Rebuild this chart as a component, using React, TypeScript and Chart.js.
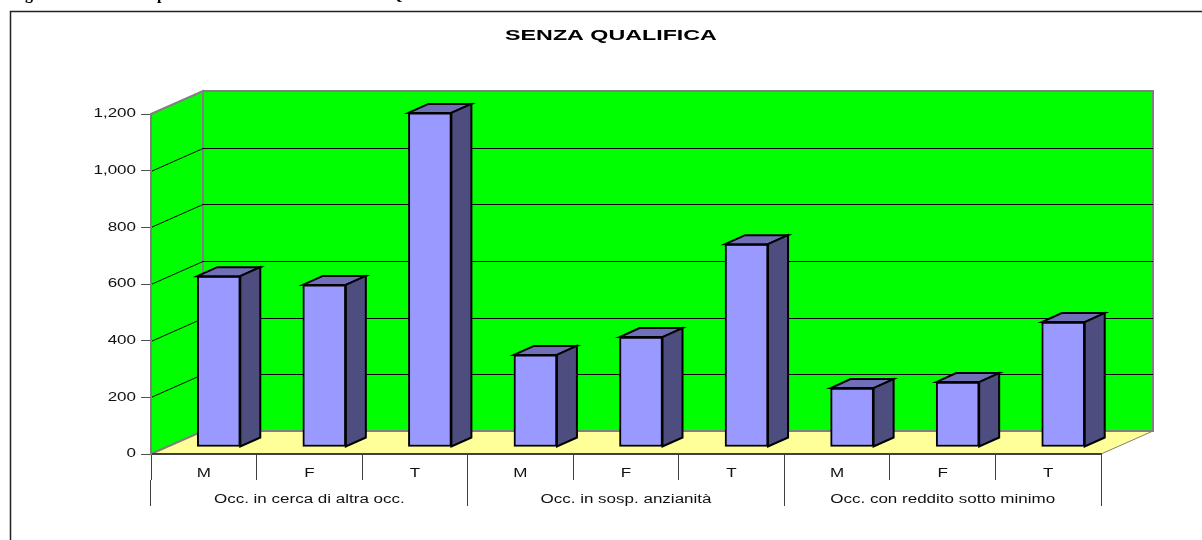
import React, { useEffect, useRef } from "react";
import { Chart, registerables } from "chart.js";

Chart.register(...registerables);

const categories = ["M", "F", "T", "M", "F", "T", "M", "F", "T"];
const groups = ["Occ. in cerca di altra occ.", "Occ. in sosp. anzianità", "Occ. con reddito sotto minimo"];
const values = [603, 572, 1179, 325, 388, 716, 208, 229, 441];
const yTicks = [0, 200, 400, 600, 800, 1000, 1200];

const WALL_DX = 52;
const WALL_DY = -23;
const BAR_DX = 15;
const BAR_DY = -7;
const SIDE_DX = 20;
const SIDE_DY = -9;
const TEXT_STRETCH = 1.36;
const TITLE_STRETCH = 1.55;

const poly = (ctx: CanvasRenderingContext2D, pts: number[][], fill: string, stroke: string, lw: number) => {
  ctx.beginPath();
  pts.forEach(([x, y], i) => (i ? ctx.lineTo(x, y) : ctx.moveTo(x, y)));
  ctx.closePath();
  ctx.fillStyle = fill;
  ctx.fill();
  ctx.lineWidth = lw;
  ctx.strokeStyle = stroke;
  ctx.lineJoin = "miter";
  ctx.stroke();
};

// The reference's sans-serif text is stretched horizontally, as in a resized picture.
const stretchText = (ctx: any) => {
  if (ctx.__stretched) return;
  ctx.__stretched = true;
  const fillText = ctx.fillText.bind(ctx);
  ctx.fillText = (t: string, x: number, y: number) => {
    const f: string = ctx.font;
    if (f.includes("Serif")) return fillText(t, x, y);
    ctx.save();
    ctx.translate(x, y);
    ctx.scale(f.includes("bold") ? TITLE_STRETCH : TEXT_STRETCH, 1);
    fillText(t, 0, 0);
    ctx.restore();
  };
};

const scene3d = {
  id: "scene3d",
  afterLayout(chart: any) {
    chart.titleBlock.left = 121;
  },
  beforeDraw(chart: any) {
    const { ctx, chartArea: a, scales } = chart;
    stretchText(ctx);
    ctx.save();
    ctx.strokeStyle = "#222";
    ctx.lineWidth = 1.5;
    ctx.strokeRect(10.5, 11.5, 1300, 600);
    const gray = "#808080";
    poly(ctx, [[a.left, a.bottom], [a.left + WALL_DX, a.bottom + WALL_DY], [a.right + WALL_DX, a.bottom + WALL_DY], [a.right, a.bottom]], "#ffff99", "#ffff99", 1);
    poly(ctx, [[a.left, a.top], [a.left + WALL_DX, a.top + WALL_DY], [a.left + WALL_DX, a.bottom + WALL_DY], [a.left, a.bottom]], "#00ff00", gray, 2);
    poly(ctx, [[a.left + WALL_DX, a.top + WALL_DY], [a.right + WALL_DX, a.top + WALL_DY], [a.right + WALL_DX, a.bottom + WALL_DY], [a.left + WALL_DX, a.bottom + WALL_DY]], "#00ff00", gray, 2);
    ctx.beginPath();
    ctx.moveTo(a.right + WALL_DX, a.bottom + WALL_DY);
    ctx.lineTo(a.right, a.bottom);
    ctx.strokeStyle = gray;
    ctx.lineWidth = 1;
    ctx.stroke();
    ctx.strokeStyle = "#000";
    ctx.lineWidth = 1;
    yTicks.slice(1, -1).forEach((v) => {
      const y = Math.round(scales.y.getPixelForValue(v)) + 0.5;
      ctx.beginPath();
      ctx.moveTo(a.left, y);
      ctx.lineTo(a.left + WALL_DX, y + WALL_DY);
      ctx.lineTo(a.right + WALL_DX, y + WALL_DY);
      ctx.stroke();
    });
    ctx.restore();
  },
  beforeDatasetsDraw(chart: any) {
    chart.ctx.save();
    chart.ctx.translate(BAR_DX, BAR_DY);
  },
  afterDatasetsDraw(chart: any) {
    const { ctx } = chart;
    chart.getDatasetMeta(0).data.forEach((bar: any) => {
      const { x, y, base, width } = bar.getProps(["x", "y", "base", "width"], true);
      const l = x - width / 2;
      const r = x + width / 2;
      poly(ctx, [[l, y], [l + SIDE_DX, y + SIDE_DY], [r + SIDE_DX, y + SIDE_DY], [r, y]], "#7070b8", "#000", 2);
      poly(ctx, [[r, y], [r + SIDE_DX, y + SIDE_DY], [r + SIDE_DX, base + SIDE_DY], [r, base]], "#4d4d80", "#000", 2);
    });
    ctx.restore();
  },
};

const clippedHeading = {
  id: "clippedHeading",
  afterDraw(chart: any) {
    const { ctx } = chart;
    ctx.save();
    ctx.fillStyle = "#000";
    ctx.font = "bold 16px 'Liberation Serif'";
    ctx.textBaseline = "alphabetic";
    ctx.fillText("g", 25, -1);
    ctx.fillText("p", 157, -1);
    ctx.fillText("Q", 390, -1);
    ctx.restore();
  },
};

export default function App() {
  const ref = useRef<HTMLCanvasElement>(null);
  useEffect(() => {
    const font = { family: "'Liberation Sans'", size: 12.5 };
    const chart = new Chart(ref.current!, {
      type: "bar",
      data: {
        labels: categories,
        datasets: [
          {
            data: values,
            backgroundColor: "#9999ff",
            borderColor: "#000",
            borderWidth: 2,
            borderSkipped: false,
            barThickness: 43,
            clip: false,
          } as any,
        ],
      },
      plugins: [scene3d, clippedHeading],
      options: {
        responsive: false,
        animation: false,
        layout: { padding: { left: 91, right: 101, top: 0, bottom: 34 } },
        plugins: {
          legend: { display: false },
          tooltip: { enabled: false },
          title: {
            display: true,
            text: "SENZA QUALIFICA",
            color: "#000",
            font: { family: "'Liberation Sans'", size: 15, weight: "bold", lineHeight: 1.2 },
            padding: { top: 27, bottom: 69 },
          },
        },
        scales: {
          x: {
            type: "category",
            offset: true,
            weight: 0,
            grid: { drawOnChartArea: false, offset: true, tickLength: 26, tickColor: "#404040", tickWidth: 1 },
            border: { color: "#404040", width: 2 },
            ticks: { font, color: "#111", padding: -14, maxRotation: 0, autoSkip: false },
            afterFit: (s: any) => { s.height = 26; },
          },
          x2: {
            type: "category",
            position: "bottom",
            labels: groups,
            offset: true,
            weight: 1,
            grid: { drawOnChartArea: false, offset: true, tickLength: 26, tickColor: "#404040", tickWidth: 1 },
            border: { display: false },
            ticks: { font, color: "#111", padding: -14, maxRotation: 0, autoSkip: false },
            afterFit: (s: any) => { s.height = 26; },
          },
          y: {
            min: 0,
            max: 1200,
            afterBuildTicks: (s: any) => { s.ticks = yTicks.map((value) => ({ value })); },
            grid: { drawOnChartArea: false, tickLength: 10, tickColor: "#505050", tickWidth: 1 },
            border: { color: "#808080", width: 2 },
            ticks: { font, color: "#111", padding: 5 },
            afterFit: (s: any) => { s.width = 60; },
          },
        },
      } as any,
    });
    return () => chart.destroy();
  }, []);
  return (
    <canvas
      ref={ref}
      width={1202}
      height={540}
      style={{ position: "fixed", left: 0, top: 0, display: "block", background: "#fff" }}
    />
  );
}
